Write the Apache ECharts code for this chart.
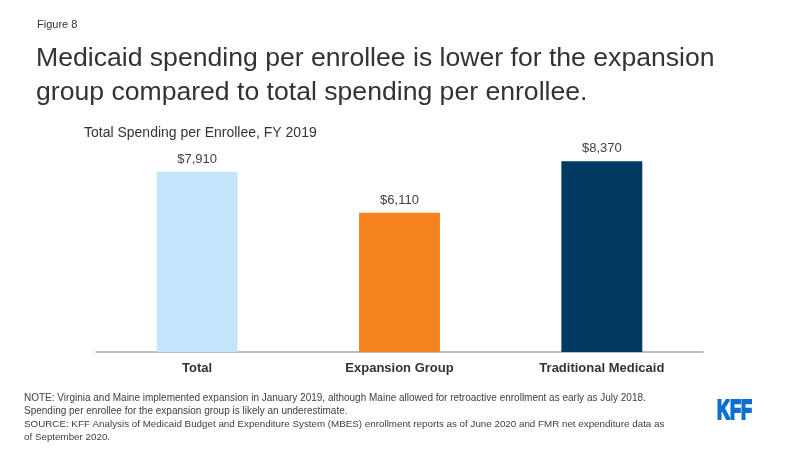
<!DOCTYPE html>
<html>
<head>
<meta charset="utf-8">
<script src="https://cdn.jsdelivr.net/npm/echarts@6/dist/echarts.min.js"></script>
<style>
html,body{margin:0;padding:0;background:#fff;}
#c{width:800px;height:450px;}
</style>
</head>
<body>
<div id="c"></div>
<script>
var categories = ['Total', 'Expansion Group', 'Traditional Medicaid'];
var values = [7910, 6110, 8370];
var valueLabels = ['$7,910', '$6,110', '$8,370'];
var barColors = ['#c3e6fc', '#f5821f', '#003a63'];

var chart = echarts.init(document.getElementById('c'), null, {renderer: 'canvas'});
var font = 'Arial, "Liberation Sans", Helvetica, sans-serif';

chart.setOption({
  animation: false,
  backgroundColor: '#ffffff',
  grid: {left: 96, right: 97, top: 124, bottom: 98},
  xAxis: {
    type: 'category',
    data: categories,
    axisTick: {show: false},
    axisLine: {lineStyle: {color: '#a6a6a6', width: 1.5}},
    axisLabel: {color: '#333333', fontWeight: 'bold', fontSize: 13, fontFamily: font, margin: 10}
  },
  yAxis: {
    type: 'value', min: 0, max: 10000,
    show: false, splitLine: {show: false}
  },
  series: [{
    type: 'bar',
    barWidth: '40%',
    data: values.map(function (v, i) {
      return {value: v, itemStyle: {color: barColors[i]}};
    }),
    label: {
      show: true, position: 'top', distance: 6,
      color: '#404040', fontSize: 13, fontFamily: font,
      formatter: function (p) { return valueLabels[p.dataIndex]; }
    }
  }],
  graphic: [
    {type: 'text', left: 37, top: 19, style: {text: 'Figure 8', fill: '#333333', font: '11px ' + font}},
    {type: 'text', left: 36, top: 42, style: {text: 'Medicaid spending per enrollee is lower for the expansion\ngroup compared to total spending per enrollee.', fill: '#333333', font: '26.6px ' + font, lineHeight: 34}},
    {type: 'text', left: 84, top: 126, style: {text: 'Total Spending per Enrollee, FY 2019', fill: '#333333', font: '14px ' + font}},
    {type: 'text', left: 24, top: 392, style: {text: 'NOTE: Virginia and Maine implemented expansion in January 2019, although Maine allowed for retroactive enrollment as early as July 2018.\nSpending per enrollee for the expansion group is likely an underestimate.', fill: '#404040', font: '10px ' + font, lineHeight: 13}},
    {type: 'text', left: 24, top: 418, style: {text: 'SOURCE: KFF Analysis of Medicaid Budget and Expenditure System (MBES) enrollment reports as of June 2020 and FMR net expenditure data as\nof September 2020.', fill: '#404040', font: '9.8px ' + font, lineHeight: 13}},
    {type: 'text', x: 717, y: 397, scaleX: 0.64, style: {text: 'KFF', fill: '#0b6fcf', stroke: '#0b6fcf', lineWidth: 2.2, font: 'bold 28px ' + font}}
  ]
});
</script>
</body>
</html>
